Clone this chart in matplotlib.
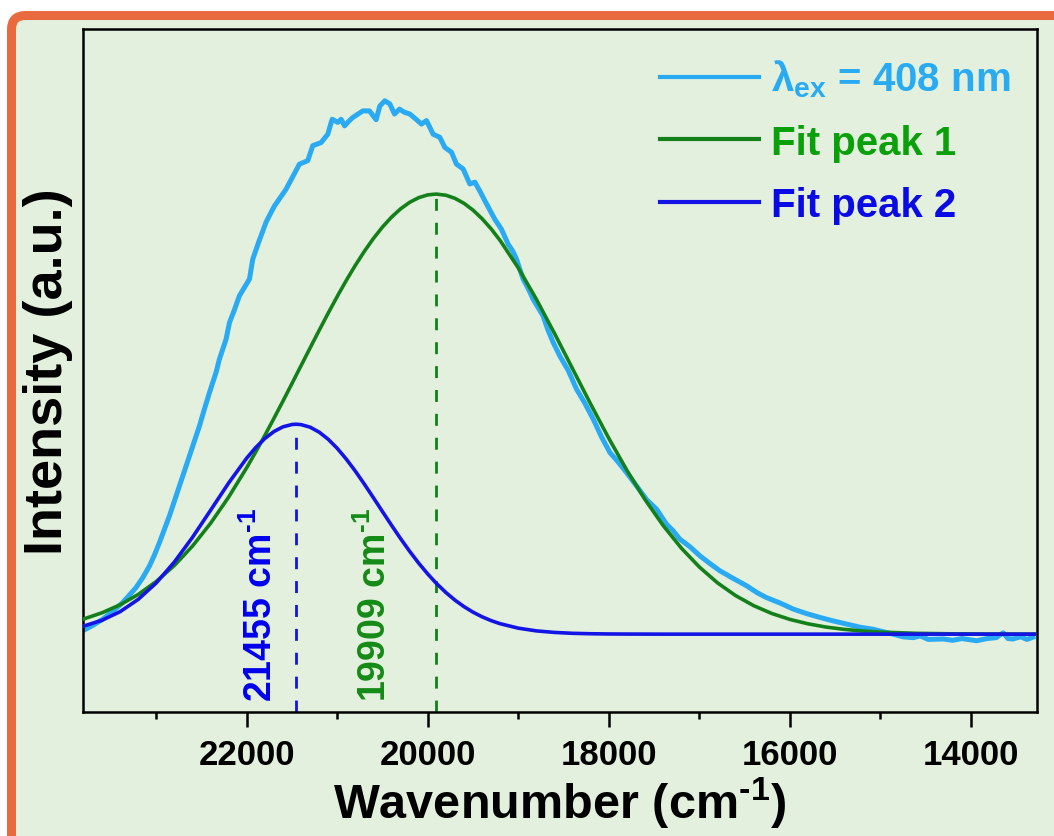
import matplotlib
matplotlib.use('Agg')
import matplotlib.pyplot as plt
from matplotlib.patches import FancyBboxPatch
from matplotlib.transforms import IdentityTransform
from matplotlib.ticker import MultipleLocator

plt.rcParams['font.family'] = ['Liberation Sans', 'DejaVu Sans']
plt.rcParams['font.weight'] = 'bold'
plt.rcParams['axes.labelweight'] = 'bold'
plt.rcParams['mathtext.fontset'] = 'custom'
plt.rcParams['mathtext.rm'] = 'Liberation Sans:bold'
plt.rcParams['mathtext.bf'] = 'Liberation Sans:bold'
plt.rcParams['mathtext.sf'] = 'Liberation Sans'
plt.rcParams['mathtext.it'] = 'Liberation Sans:italic'
plt.rcParams['mathtext.default'] = 'bf'

data_wn = [23810, 23700, 23591, 23480, 23370, 23300, 23223, 23150, 23075, 23020,
           22965, 22910, 22854, 22800, 22744, 22690, 22633, 22580, 22523, 22470,
           22412, 22339, 22302, 22229, 22191, 22140, 22081, 22020, 21970, 21934,
           21870, 21787, 21740, 21694, 21630, 21566, 21490, 21418, 21326, 21271,
           21179, 21105, 21057, 20995, 20958, 20920, 20870, 20829, 20770, 20718,
           20644, 20571, 20530, 20475, 20420, 20368, 20313, 20260, 20199, 20130,
           20070, 20014, 19941, 19867, 19812, 19738, 19683, 19609, 19536, 19480,
           19420, 19370, 19310, 19260, 19186, 19112, 19060, 19020, 18947, 18890,
           18836, 18726, 18670, 18615, 18541, 18450, 18357, 18265, 18173, 18080,
           17989, 17900, 17804, 17694, 17580, 17473, 17363, 17290, 17216, 17100,
           16994, 16880, 16773, 16620, 16478, 16360, 16257, 16100, 15963, 15820,
           15668, 15520, 15373, 15230, 15079, 14960, 14858, 14750, 14637, 14560,
           14470, 14305, 14200, 14100, 13937, 13820, 13720, 13643, 13590, 13536,
           13450, 13380, 13315]
data_int = [0.008, 0.020, 0.034, 0.052, 0.072, 0.088, 0.106, 0.128, 0.155, 0.180,
            0.208, 0.238, 0.269, 0.302, 0.337, 0.370, 0.405, 0.438, 0.473, 0.510,
            0.549, 0.595, 0.625, 0.670, 0.708, 0.735, 0.769, 0.790, 0.807, 0.852,
            0.890, 0.936, 0.955, 0.973, 0.992, 1.011, 1.040, 1.068, 1.076, 1.110,
            1.117, 1.136, 1.170, 1.163, 1.170, 1.155, 1.166, 1.174, 1.182, 1.189,
            1.189, 1.169, 1.200, 1.212, 1.205, 1.182, 1.193, 1.186, 1.182, 1.170,
            1.159, 1.167, 1.136, 1.129, 1.106, 1.095, 1.068, 1.057, 1.023, 1.027,
            1.005, 0.985, 0.962, 0.943, 0.920, 0.886, 0.870, 0.852, 0.807, 0.785,
            0.761, 0.723, 0.690, 0.663, 0.632, 0.600, 0.557, 0.525, 0.489, 0.448,
            0.413, 0.392, 0.367, 0.337, 0.305, 0.284, 0.250, 0.235, 0.216, 0.198,
            0.178, 0.160, 0.144, 0.126, 0.110, 0.094, 0.083, 0.070, 0.057, 0.047,
            0.038, 0.030, 0.023, 0.016, 0.011, 0.005, 0.000, -0.006, -0.008, -0.004,
            -0.012, -0.011, -0.014, -0.010, -0.015, -0.010, -0.008, 0.003, -0.010, -0.011,
            -0.006, -0.012, -0.007]

# fitted Gaussian components
fit_wn = [23800, 23600, 23400, 23200, 23000, 22800, 22600, 22400, 22200, 22000,
          21900, 21800, 21700, 21600, 21500, 21455, 21400, 21300, 21200, 21100,
          21000, 20900, 20800, 20700, 20600, 20500, 20400, 20300, 20200, 20100,
          20000, 19909, 19800, 19700, 19600, 19500, 19400, 19300, 19200, 19000,
          18800, 18600, 18400, 18200, 18000, 17800, 17600, 17400, 17200, 17000,
          16800, 16600, 16400, 16200, 16000, 15800, 15600, 15400, 15200, 15000,
          14600, 14200, 13800, 13300]
fit_peak1 = [0.0346, 0.0485, 0.0667, 0.0901, 0.1197, 0.1561, 0.2001, 0.2519, 0.3115, 0.3785,
             0.4144, 0.4517, 0.4903, 0.5297, 0.5698, 0.5880, 0.6102, 0.6505, 0.6904, 0.7297,
             0.7676, 0.8040, 0.8383, 0.8702, 0.8993, 0.9253, 0.9478, 0.9666, 0.9813, 0.9919,
             0.9982, 1.0000, 0.9974, 0.9903, 0.9790, 0.9635, 0.9440, 0.9209, 0.8943, 0.8322,
             0.7609, 0.6833, 0.6029, 0.5225, 0.4449, 0.3722, 0.3058, 0.2469, 0.1958, 0.1526,
             0.1167, 0.0877, 0.0648, 0.0470, 0.0335, 0.0235, 0.0161, 0.0109, 0.0072, 0.0047,
             0.0019, 0.0007, 0.0002, 0.0000]
fit_peak2 = [0.0185, 0.0315, 0.0510, 0.0789, 0.1164, 0.1639, 0.2199, 0.2815, 0.3436, 0.4002,
             0.4243, 0.4446, 0.4604, 0.4711, 0.4764, 0.4770, 0.4761, 0.4703, 0.4590, 0.4428,
             0.4221, 0.3976, 0.3703, 0.3406, 0.3097, 0.2783, 0.2472, 0.2169, 0.1881, 0.1612,
             0.1366, 0.1162, 0.0946, 0.0773, 0.0625, 0.0499, 0.0394, 0.0307, 0.0237, 0.0136,
             0.0074, 0.0039, 0.0019, 0.0009, 0.0004, 0.0002, 0.0001, 0.0, 0.0, 0.0,
             0.0, 0.0, 0.0, 0.0, 0.0, 0.0, 0.0, 0.0, 0.0, 0.0,
             0.0, 0.0, 0.0, 0.0]

peak_centers = [21455, 19909]
peak_heights = [0.477, 1.0]
peak_labels = [r'21455 cm$^{\text{-1}}$', r'19909 cm$^{\text{-1}}$']
label_x = [21635, 20376]

legend_labels = [r'$\mathsf{\lambda}_{ex}$ = 408 nm', 'Fit peak 1', 'Fit peak 2']

c_data = '#2aaaf2'
c_green = '#14801a'
c_blue = '#1414e6'
y_bottom, y_top = -0.177, 1.375

fig = plt.figure(figsize=(10.54, 8.37), dpi=100)
fig.patch.set_facecolor('white')

# orange rounded frame with light green fill
frame = FancyBboxPatch((11.5, -15), 1063.5, 835.5,
                       boxstyle='round,pad=0,rounding_size=14',
                       transform=IdentityTransform(),
                       facecolor='#e3f0de', edgecolor='#ea6a40', lw=6.5, zorder=0)
fig.add_artist(frame)

ax = fig.add_axes([0.0787, 0.1481, 0.9051, 0.8160])
ax.set_facecolor('none')

ax.plot(data_wn, data_int, color=c_data, lw=3.6, label=legend_labels[0], zorder=2,
        solid_joinstyle='round')
ax.plot(fit_wn, fit_peak1, color=c_green, lw=2.6, label=legend_labels[1], zorder=3,
        solid_joinstyle='round')
ax.plot(fit_wn, fit_peak2, color=c_blue, lw=2.6, label=legend_labels[2], zorder=4,
        solid_joinstyle='round')

# peak markers
for x, h, c in zip(peak_centers, peak_heights, [c_blue, c_green]):
    ax.vlines(x, y_bottom, h, colors=c, linestyles=(0, (4.3, 4.3)), lw=2, zorder=1)
ax.text(label_x[0], -0.152, peak_labels[0], rotation=90, ha='right', va='bottom',
        fontsize=27, color='#0000ee')
ax.text(label_x[1], -0.152, peak_labels[1], rotation=90, ha='right', va='bottom',
        fontsize=27, color='#158a15')

ax.set_xlim(23810, 13270)
ax.set_ylim(y_bottom, y_top)
ax.xaxis.set_major_locator(MultipleLocator(2000))
ax.xaxis.set_minor_locator(MultipleLocator(1000))
ax.set_yticks([])
ax.tick_params(axis='x', which='major', length=11, width=1.8, pad=8, labelsize=25)
ax.tick_params(axis='x', which='minor', length=5, width=1.8)
for s in ax.spines.values():
    s.set_linewidth(1.8)

ax.set_xlabel(r'Wavenumber (cm$^{\text{-1}}$)', fontsize=35, labelpad=2)
ax.set_ylabel('Intensity (a.u.)', fontsize=39, va='center')
ax.yaxis.set_label_coords(-0.037, 0.50)

leg = ax.legend(loc='upper left', bbox_to_anchor=(0.605, 0.958), frameon=False,
                fontsize=29, handlelength=2.45, handletextpad=0.3,
                labelspacing=0.6, borderpad=0, borderaxespad=0)
for t, c in zip(leg.get_texts(), ['#29abf3', '#0aa00a', '#0a0ae6']):
    t.set_color(c)
for h in leg.get_lines():
    h.set_linewidth(3)

fig.savefig('out.png', dpi=100)
